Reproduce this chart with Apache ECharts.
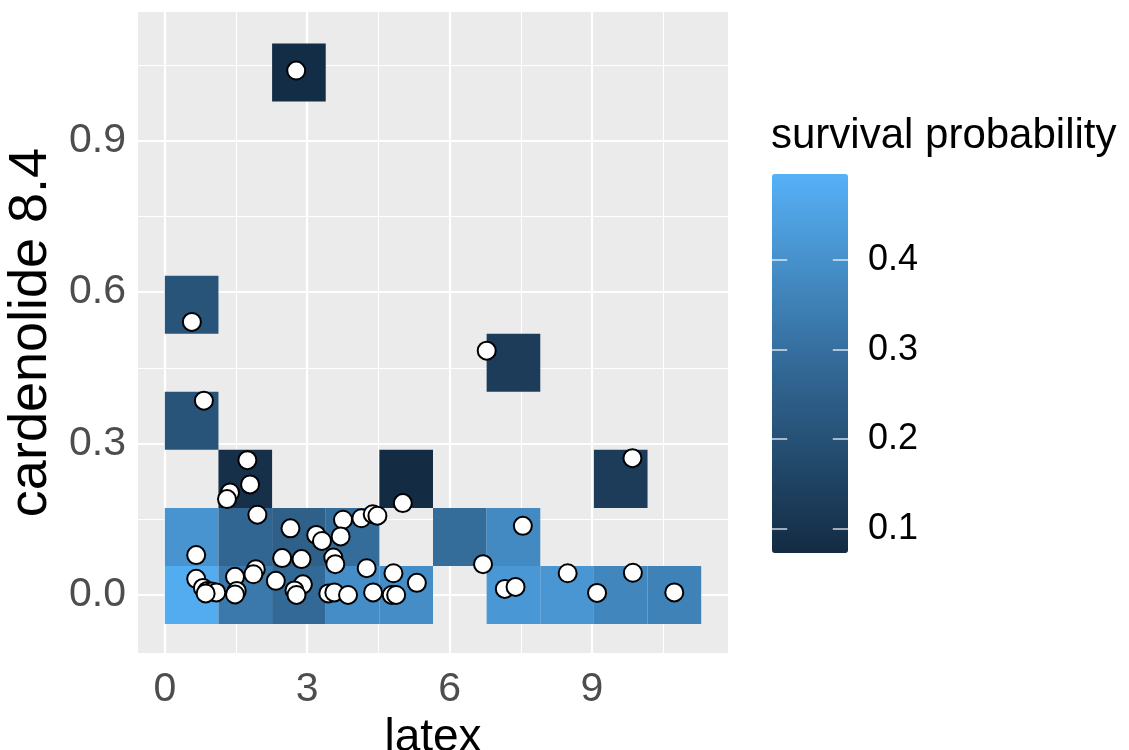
<!DOCTYPE html>
<html>
<head>
<meta charset="utf-8">
<script src="https://cdn.jsdelivr.net/npm/echarts@6/dist/echarts.min.js"></script>
<style>
  html, body { margin: 0; padding: 0; background: #fff; }
  #chart { width: 1129px; height: 750px; }
</style>
</head>
<body>
<div id="chart"></div>
<script>
// binned tiles: bin centres and mean survival probability
var tileLatex = [0.565, 1.695, 2.825, 3.955, 5.085, 7.345, 8.475, 9.605, 10.735,
                 0.565, 1.695, 2.825, 3.955, 6.215, 7.345,
                 1.695, 5.085, 9.605,
                 0.565, 7.345, 0.565, 2.825];
var tileCardenolide = [0, 0, 0, 0, 0, 0, 0, 0, 0,
                       0.115, 0.115, 0.115, 0.115, 0.115, 0.115,
                       0.23, 0.23, 0.23,
                       0.345, 0.46, 0.575, 1.035];
var tileSurvival = [0.48, 0.33, 0.28, 0.39, 0.39, 0.42, 0.415, 0.37, 0.355,
                    0.41, 0.27, 0.25, 0.29, 0.29, 0.38,
                    0.09, 0.075, 0.13,
                    0.21, 0.13, 0.21, 0.08];
var binWidthLatex = 1.13;
var binWidthCardenolide = 0.115;

// individual plants
var latex = [2.768, 0.570, 0.824, 6.782, 9.852, 1.739, 1.796, 1.373, 1.310, 1.950,
             5.014, 2.647, 3.190, 3.311, 3.754, 3.704, 4.141, 4.380, 4.479, 0.661,
             2.472, 2.880, 3.549, 3.592, 4.253, 0.661, 1.916, 1.866, 1.479, 4.817,
             5.310, 2.339, 2.909, 2.732, 2.774, 1.515, 1.479, 0.803, 0.894, 0.987,
             1.084, 0.860, 3.444, 3.571, 3.860, 4.388, 4.781, 4.874, 7.543, 6.704,
             7.163, 7.389, 8.487, 9.106, 9.861, 10.733];
var cardenolide = [1.039, 0.541, 0.385, 0.484, 0.271, 0.267, 0.219, 0.203, 0.190, 0.159,
                   0.182, 0.132, 0.119, 0.107, 0.149, 0.116, 0.152, 0.160, 0.157, 0.079,
                   0.073, 0.071, 0.074, 0.061, 0.053, 0.032, 0.051, 0.041, 0.036, 0.043,
                   0.024, 0.028, 0.021, 0.009, 0.000, 0.008, 0.001, 0.014, 0.008, 0.007,
                   0.005, 0.003, 0.003, 0.005, 0.000, 0.005, 0.000, 0.000, 0.137, 0.061,
                   0.012, 0.016, 0.043, 0.004, 0.044, 0.005];

var xTicks = [0, 3, 6, 9];
var xMinor = [1.5, 4.5, 7.5, 10.5];
var yTicks = [0, 0.3, 0.6, 0.9];
var yMinor = [0.15, 0.45, 0.75, 1.05];
var legendTicks = [0.1, 0.2, 0.3, 0.4];
var survivalRange = [0.073, 0.496];

var chart = echarts.init(document.getElementById('chart'));

var tileData = tileLatex.map(function (x, i) {
    return [x, tileCardenolide[i], tileSurvival[i]];
});
var pointData = latex.map(function (x, i) {
    return [x, cardenolide[i]];
});

// white panel grid, major and minor
var gridLines = [];
xTicks.forEach(function (v) { gridLines.push({xAxis: v, lineStyle: {width: 2.2}}); });
xMinor.forEach(function (v) { gridLines.push({xAxis: v, lineStyle: {width: 1.1}}); });
yTicks.forEach(function (v) { gridLines.push({yAxis: v, lineStyle: {width: 2.2}}); });
yMinor.forEach(function (v) { gridLines.push({yAxis: v, lineStyle: {width: 1.1}}); });

// short white ticks on both edges of the colour bar (bar spans 0..1 across)
var barTicks = [];
legendTicks.forEach(function (v) {
    barTicks.push([{coord: [0, v]}, {coord: [0.2, v]}]);
    barTicks.push([{coord: [0.8, v]}, {coord: [1, v]}]);
});

var font = 'Liberation Sans, Arial, sans-serif';

var option = {
    animation: false,
    textStyle: {fontFamily: font},
    title: {
        text: 'survival probability',
        left: 771,
        top: 115,
        padding: 0,
        textStyle: {fontSize: 42, fontWeight: 'normal', color: '#000', fontFamily: font}
    },
    grid: [
        {left: 138, top: 12, width: 590, height: 641, show: true,
         backgroundColor: '#EBEBEB', borderWidth: 0, outerBoundsMode: 'none'},
        {left: 772, top: 174, width: 76, height: 379, show: false, outerBoundsMode: 'none'}
    ],
    xAxis: [
        {
            type: 'value', gridIndex: 0, min: -0.565, max: 11.865,
            name: 'latex', nameLocation: 'middle', nameGap: 57,
            nameTextStyle: {fontSize: 46, color: '#000', fontFamily: font},
            axisLine: {show: false},
            axisTick: {show: true, length: 7, customValues: xTicks,
                       lineStyle: {color: '#333', width: 2}},
            axisLabel: {customValues: xTicks, fontSize: 41, color: '#4D4D4D', margin: 16,
                        fontFamily: font},
            splitLine: {show: false}
        },
        {type: 'value', gridIndex: 1, show: false, min: 0, max: 1}
    ],
    yAxis: [
        {
            type: 'value', gridIndex: 0, min: -0.115, max: 1.155,
            name: 'cardenolide 8.4', nameLocation: 'middle', nameGap: 70,
            nameTextStyle: {fontSize: 54, color: '#000', fontFamily: font},
            axisLine: {show: false},
            axisTick: {show: true, length: 7, customValues: yTicks,
                       lineStyle: {color: '#333', width: 2}},
            axisLabel: {customValues: yTicks, fontSize: 41, color: '#4D4D4D', margin: 12,
                        fontFamily: font,
                        formatter: function (v) { return v.toFixed(1); }},
            splitLine: {show: false}
        },
        {
            type: 'value', gridIndex: 1, position: 'right',
            min: survivalRange[0], max: survivalRange[1],
            axisLine: {show: false},
            axisTick: {show: false},
            axisLabel: {customValues: legendTicks, fontSize: 36, color: '#000', margin: 20,
                        fontFamily: font,
                        formatter: function (v) { return v.toFixed(1); }},
            splitLine: {show: false}
        }
    ],
    visualMap: {
        type: 'continuous',
        seriesIndex: 1,
        dimension: 2,
        min: survivalRange[0],
        max: survivalRange[1],
        left: 772,
        top: 174,
        padding: 0,
        itemWidth: 76,
        itemHeight: 379,
        calculable: false,
        z: 1,
        inRange: {color: ['#132B43', '#336A98', '#56B1F7']}
    },
    series: [
        {
            name: 'grid', type: 'scatter', xAxisIndex: 0, yAxisIndex: 0, data: [], z: 1,
            markLine: {
                silent: true, symbol: ['none', 'none'], label: {show: false},
                z: 1,
                lineStyle: {color: '#FFFFFF', type: 'solid'},
                emphasis: {disabled: true},
                data: gridLines
            }
        },
        {
            name: 'tiles', type: 'custom', xAxisIndex: 0, yAxisIndex: 0, z: 10,
            data: tileData,
            encode: {x: 0, y: 1},
            renderItem: function (params, api) {
                var x = api.value(0), y = api.value(1);
                var p0 = api.coord([x - binWidthLatex / 2, y + binWidthCardenolide / 2]);
                var p1 = api.coord([x + binWidthLatex / 2, y - binWidthCardenolide / 2]);
                return {
                    type: 'rect',
                    shape: {x: p0[0], y: p0[1], width: p1[0] - p0[0], height: p1[1] - p0[1]},
                    style: {fill: api.visual('color')}
                };
            }
        },
        {
            name: 'plants', type: 'scatter', xAxisIndex: 0, yAxisIndex: 0, z: 11,
            data: pointData,
            symbol: 'circle', symbolSize: 18,
            itemStyle: {color: '#FFFFFF', borderColor: '#000', borderWidth: 2, opacity: 1}
        },
        {
            name: 'bar ticks', type: 'scatter', xAxisIndex: 1, yAxisIndex: 1, data: [], z: 20,
            markLine: {
                silent: true, symbol: ['none', 'none'], label: {show: false},
                z: 20,
                lineStyle: {color: 'rgba(255,255,255,0.8)', type: 'solid', width: 1.5},
                emphasis: {disabled: true},
                data: barTicks
            }
        }
    ]
};

chart.setOption(option);
</script>
</body>
</html>
